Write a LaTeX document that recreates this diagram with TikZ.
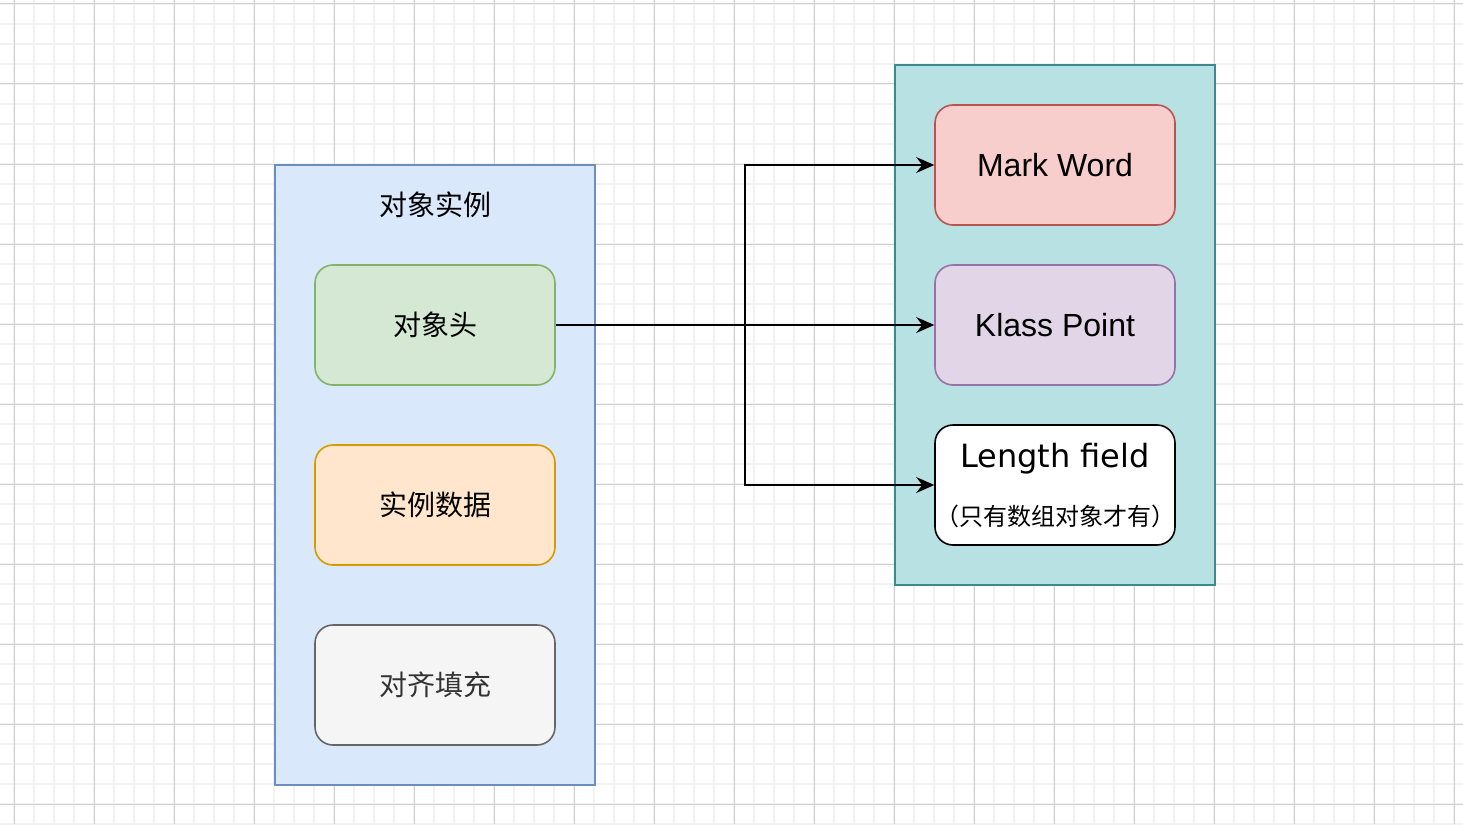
\documentclass[tikz,border=0pt]{standalone}
\usepackage{fontspec}
\setmainfont{Liberation Sans}
\newfontfamily\cjk{Noto Sans CJK SC}
\newfontfamily\dvsans{DejaVu Sans}
\usetikzlibrary{arrows.meta}
\definecolor{gridminor}{HTML}{F2F2F2}
\definecolor{gridmajor}{HTML}{D0D0D0}
\definecolor{bluefill}{HTML}{DAE8FC}
\definecolor{bluedraw}{HTML}{6C8EBF}
\definecolor{greenfill}{HTML}{D5E8D4}
\definecolor{greendraw}{HTML}{82B366}
\definecolor{orangefill}{HTML}{FFE6CC}
\definecolor{orangedraw}{HTML}{D79B00}
\definecolor{greyfill}{HTML}{F5F5F5}
\definecolor{greydraw}{HTML}{666666}
\definecolor{greytext}{HTML}{333333}
\definecolor{redfill}{HTML}{F8CECC}
\definecolor{reddraw}{HTML}{B85450}
\definecolor{purplefill}{HTML}{E1D5E7}
\definecolor{purpledraw}{HTML}{9673A6}
\definecolor{tealfill}{HTML}{B8E1E3}
\definecolor{tealdraw}{HTML}{3C8A8D}
\tikzset{
  minorline/.style={draw=gridminor, line width=1.6pt},
  majorline/.style={draw=gridmajor, line width=1pt},
  container/.style={rectangle, line width=1.6pt, minimum width=320pt, inner sep=0pt},
  cell/.style={rectangle, rounded corners=18pt, line width=1.6pt, minimum width=240pt, minimum height=120pt, inner sep=0pt, align=center},
  cjklabel/.style={font=\cjk\fontsize{28}{34}\selectfont},
  latlabel/.style={font=\fontsize{32}{38}\selectfont},
  arr/.style={draw=black, line width=2pt, -{Stealth[length=18pt,width=16pt,inset=6pt]}}
}
\begin{document}
\begin{tikzpicture}[x=1pt,y=-1pt]
\useasboundingbox (0,0) rectangle (1463,824);
\fill[white] (0,0) rectangle (1463,824);
\foreach \x in {14,34,...,1454} \draw[minorline] (\x,0) -- (\x,824);
\foreach \y in {4,24,...,824} \draw[minorline] (0,\y) -- (1463,\y);
\foreach \x in {14,94,...,1454} \draw[majorline] (\x,0) -- (\x,824);
\foreach \y in {4,84,...,804} \draw[majorline] (0,\y) -- (1463,\y);

% left container
\node[container, fill=bluefill, draw=bluedraw, minimum height=620pt] (inst) at (435,475) {};
\node[cjklabel] (insttitle) at (435,205) {对象实例};
\node[cell, fill=greenfill, draw=greendraw, cjklabel] (head) at (435,325) {对象头};
\node[cell, fill=orangefill, draw=orangedraw, cjklabel] (data) at (435,505) {实例数据};
\node[cell, fill=greyfill, draw=greydraw, cjklabel, text=greytext] (pad) at (435,685) {对齐填充};

% right container
\node[container, fill=tealfill, draw=tealdraw, minimum height=520pt] (hdr) at (1055,325) {};
\node[cell, fill=redfill, draw=reddraw, latlabel] (mark) at (1055,165) {Mark Word};
\node[cell, fill=purplefill, draw=purpledraw, latlabel] (klass) at (1055,325) {Klass Point};
\node[cell, fill=white, draw=black, font=\fontsize{32}{58}\selectfont] (len) at (1055,485)
  {\dvsans Length field\\[0pt]\cjk\fontsize{24}{60}\selectfont （只有数组对象才有）};

% connectors
\coordinate (split) at (745,325);
\draw[arr] (head.east) -- (klass.west);
\draw[arr] (head.east) -- (split) |- (mark.west);
\draw[arr] (head.east) -- (split) |- (len.west);
\end{tikzpicture}
\end{document}
